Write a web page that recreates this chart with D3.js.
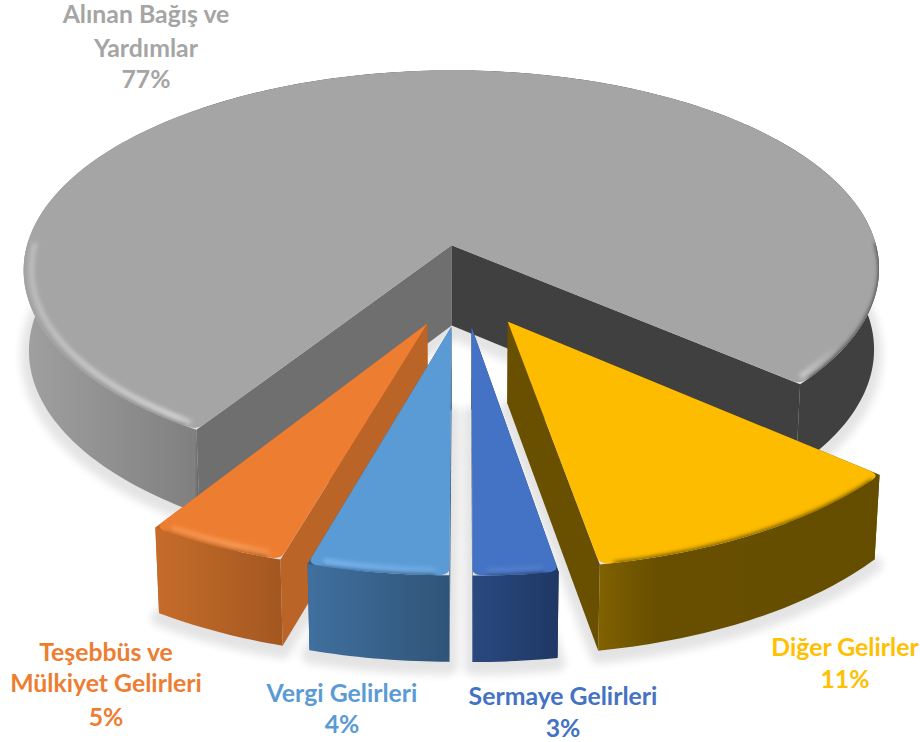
<!DOCTYPE html>
<html>
<head>
<meta charset="utf-8">
<script src="https://cdnjs.cloudflare.com/ajax/libs/d3/7.8.5/d3.min.js"></script>
<style>
  html, body { margin: 0; padding: 0; background: #fff; }
  text { font-family: Lato, "Open Sans", sans-serif; font-weight: bold; text-anchor: middle; }
</style>
</head>
<body>
<div id="chart"></div>
<script>
// values in pie order, clockwise from the right edge of the yellow slice
// (slice sizes, the printed labels are rounded)
var categories = ["Diğer Gelirler", "Sermaye Gelirleri", "Vergi Gelirleri", "Teşebbüs ve Mülkiyet Gelirleri", "Alınan Bağış ve Yardımlar"];
var values = [11, 2.7, 4.5, 4.5, 77.3];
var labelLines = [["Diğer Gelirler", "11%"], ["Sermaye Gelirleri", "3%"], ["Vergi Gelirleri", "4%"], ["Teşebbüs ve", "Mülkiyet Gelirleri", "5%"], ["Alınan Bağış ve", "Yardımlar", "77%"]];
var topColors = ["#fdbc00", "#4472c4", "#5b9bd5", "#ed7d31", "#a5a5a5"];
var labelColors = ["#ffc000", "#4472c4", "#5b9bd5", "#ed7d31", "#a5a5a5"];
// cut face at the start / end of each slice
var startWallColors = ["#695000", "#1f3864", "#335a80", "#ba6428", "#6f6f6f"];
var endWallColors = ["#695000", "#1f3864", "#335a80", "#ba6428", "#404040"];
// outer wall shading, left to right
var wallStops = [
  [[0, "#806100"], [0.2, "#684f00"], [1, "#654d00"]],
  [[0, "#29497f"], [1, "#1f3864"]],
  [[0, "#40709f"], [1, "#305478"]],
  [[0, "#c66c2b"], [1, "#a35820"]],
  [[0, "#a0a0a0"], [0.2, "#808080"], [0.21, "#404040"], [1, "#404040"]]
];
var rimColors = [null, "#5d88d4", "#7db8f0", "#f89c58", "#d8d8d8"];
// how strong the rim highlight is, left to right
var rimFade = [null, [[0, 0.7], [1, 0.5]], [[0, 1], [1, 0.5]], [[0, 0.6], [0.6, 1], [1, 0.5]], [[0, 0.5], [0.18, 1], [0.22, 0], [0.88, 0], [0.91, 0.8], [0.95, 0]]];

var width = 920, height = 742;
// ground plane -> screen, tilted view with some perspective
var cx = 464, cy = 285, radiusX = 435, radiusY = 206, persp = 0.125, depth = 81, explode = 0.2;

function project(u, v, z) {
  var s = 1 / (1 - persp * v);
  return [cx + radiusX * u * s * (1 - 0.012 * z), cy + radiusY * v * s + depth * z * Math.pow(s, 0.4)];
}

var svg = d3.select("#chart").append("svg")
  .attr("width", width)
  .attr("height", height);
var defs = svg.append("defs");
defs.append("filter").attr("id", "soft").attr("x", "-10%").attr("y", "-10%").attr("width", "120%").attr("height", "120%")
  .append("feGaussianBlur").attr("stdDeviation", 4);
defs.append("filter").attr("id", "rimBlur").attr("filterUnits", "userSpaceOnUse").attr("x", 0).attr("y", 0).attr("width", width).attr("height", height)
  .append("feGaussianBlur").attr("stdDeviation", 2.2);

var pie = d3.pie()
  .sort(null)
  .startAngle(130.7 * Math.PI / 180)
  .endAngle((130.7 + 360) * Math.PI / 180);
var slices = pie(values);
var line = d3.line();
var step = Math.PI / 180;

slices.forEach(function(d) {
  var mid = (d.startAngle + d.endAngle) / 2;
  d.ou = explode * Math.sin(mid);
  d.ov = -explode * Math.cos(mid);
});

function polar(d, r, a) {
  return [d.ou + r * Math.sin(a), d.ov - r * Math.cos(a)];
}
function arcAngles(a0, a1) {
  var n = Math.ceil((a1 - a0) / step), out = [];
  for (var i = 0; i <= n; i++) out.push(a0 + (a1 - a0) * i / n);
  return out;
}
function arcPoints(d, r, z, a0, a1) {
  return arcAngles(a0, a1).map(function(a) {
    var p = polar(d, r, a);
    return project(p[0], p[1], z);
  });
}
// quadratic corner between the radial edge and the rim
function corner(d, a, dir, z) {
  var rr = 0.024, out = [];
  var p0 = polar(d, 1 - rr, a), p1 = polar(d, 1, a), p2 = polar(d, 1, a + dir * rr);
  for (var t = 0; t <= 1.001; t += 0.2) {
    var k0 = (1 - t) * (1 - t), k1 = 2 * t * (1 - t), k2 = t * t;
    out.push(project(k0 * p0[0] + k1 * p1[0] + k2 * p2[0], k0 * p0[1] + k1 * p1[1] + k2 * p2[1], z));
  }
  return out;
}
function topOutline(d) {
  var rr = 0.024;
  return [project(d.ou, d.ov, 0)]
    .concat(corner(d, d.startAngle, 1, 0))
    .concat(arcPoints(d, 1, 0, d.startAngle + rr, d.endAngle - rr))
    .concat(corner(d, d.endAngle, -1, 0).reverse());
}
function footprint(d) {
  return [project(d.ou, d.ov, 1)].concat(arcPoints(d, 1, 1, d.startAngle, d.endAngle));
}

// soft shadow under the whole pie
svg.append("g")
  .attr("filter", "url(#soft)")
  .attr("transform", "translate(0,5)")
  .attr("opacity", 0.105)
  .selectAll("path")
  .data(slices)
  .join("path")
  .attr("d", function(d) { return line(footprint(d)) + "Z"; })
  .attr("fill", "#000")
  .attr("stroke", "#000")
  .attr("stroke-width", 16)
  .attr("stroke-linejoin", "round");

// back to front: grey, yellow, orange, light blue, blue
var drawOrder = [4, 0, 3, 2, 1];
drawOrder.forEach(function(i) {
  var d = slices[i];
  var g = svg.append("g").attr("class", "slice");
  var apexTop = project(d.ou, d.ov, 0), apexBottom = project(d.ou, d.ov, 1);

  // cut faces
  [[d.startAngle, startWallColors[i]], [d.endAngle, endWallColors[i]]].forEach(function(w) {
    var p = polar(d, 1, w[0]);
    g.append("path")
      .attr("d", line([apexTop, project(p[0], p[1], 0), project(p[0], p[1], 1), apexBottom]) + "Z")
      .attr("fill", w[1]);
  });

  // outer wall
  var rimTop = arcPoints(d, 1, 0, d.startAngle, d.endAngle);
  var rimBottom = arcPoints(d, 1, 1, d.startAngle, d.endAngle);
  var xs = d3.extent(rimTop, function(p) { return p[0]; });
  var wallGrad = defs.append("linearGradient")
    .attr("id", "wall" + i)
    .attr("gradientUnits", "userSpaceOnUse")
    .attr("x1", xs[0]).attr("x2", xs[1]).attr("y1", 0).attr("y2", 0);
  wallStops[i].forEach(function(s) {
    wallGrad.append("stop").attr("offset", s[0]).attr("stop-color", s[1]);
  });
  g.append("path")
    .attr("d", line(rimTop.concat(rimBottom.reverse())) + "Z")
    .attr("fill", "url(#wall" + i + ")");

  // top face
  var outline = line(topOutline(d)) + "Z";
  g.append("path").attr("d", outline).attr("fill", topColors[i]);
  defs.append("clipPath").attr("id", "top" + i).append("path").attr("d", outline);

  // bevel along the front of the rim only
  var rimLine = d3.line().defined(function(p) { return p[2]; });
  function rimPath(r) {
    return rimLine(arcAngles(d.startAngle + 0.028, d.endAngle - 0.028).map(function(a) {
      var p = polar(d, r, a), q = project(p[0], p[1], 0);
      return [q[0], q[1], Math.cos(a) < 0.02];
    }));
  }
  var rim = g.append("g").attr("clip-path", "url(#top" + i + ")").append("g").attr("filter", "url(#rimBlur)");
  if (rimColors[i]) {
    var rimGrad = defs.append("linearGradient")
      .attr("id", "rim" + i)
      .attr("gradientUnits", "userSpaceOnUse")
      .attr("x1", xs[0]).attr("x2", xs[1]).attr("y1", 0).attr("y2", 0);
    rimFade[i].forEach(function(s) {
      rimGrad.append("stop").attr("offset", s[0]).attr("stop-color", rimColors[i]).attr("stop-opacity", s[1]);
    });
    rim.append("path")
      .attr("d", rimPath(0.982))
      .attr("fill", "none")
      .attr("stroke", "url(#rim" + i + ")")
      .attr("stroke-width", 5);
  }
  rim.append("path")
    .attr("d", rimPath(1.004))
    .attr("fill", "none")
    .attr("stroke", "url(#wall" + i + ")")
    .attr("stroke-width", 5);
});

// labels
var labelX = [845, 563, 342, 106, 146];
var labelY = [[656, 688], [705, 737], [702, 733], [661, 692, 726], [23, 57, 88]];
labelLines.forEach(function(lines, i) {
  var t = svg.append("text").attr("fill", labelColors[i]).attr("font-size", 24.8);
  lines.forEach(function(s, j) {
    t.append("tspan").attr("x", labelX[i]).attr("y", labelY[i][j]).text(s);
  });
});
</script>
</body>
</html>
